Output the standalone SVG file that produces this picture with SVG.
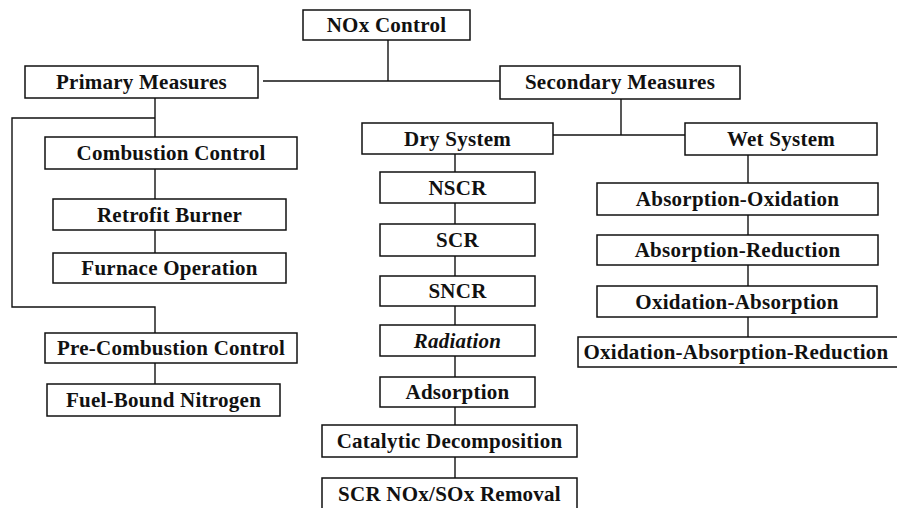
<svg xmlns="http://www.w3.org/2000/svg" width="897" height="508" viewBox="0 0 897 508">
<style>
rect{fill:#fff;stroke:#111;stroke-width:1.5}
text{font-family:"Liberation Serif","Times New Roman",serif;font-weight:bold;font-size:21px;fill:#111;text-anchor:middle;letter-spacing:0.25px}
.c line,.c polyline{stroke:#111;stroke-width:1.4;fill:none}
.it{font-style:italic}
</style>
<rect x="0" y="0" width="897" height="508" style="stroke:none;fill:#fff"/>
<g class="c" id="connectors">
<polyline points="388,40 388,81"/>
<line x1="263" y1="81" x2="500" y2="81"/>
<polyline points="155,98 155,137"/>
<polyline points="155,118 12,118 12,307 155,307 155,333"/>
<line x1="155" y1="169" x2="155" y2="199"/>
<line x1="155" y1="230" x2="155" y2="253"/>
<line x1="155" y1="363" x2="155" y2="384"/>
<line x1="621" y1="99" x2="621" y2="135"/>
<line x1="553" y1="135" x2="685" y2="135"/>
<line x1="455" y1="154" x2="455" y2="172"/>
<line x1="455" y1="203" x2="455" y2="224"/>
<line x1="455" y1="256" x2="455" y2="276"/>
<line x1="455" y1="306" x2="455" y2="325"/>
<line x1="455" y1="356" x2="455" y2="377"/>
<line x1="455" y1="407" x2="455" y2="425"/>
<line x1="455" y1="457" x2="455" y2="478"/>
<line x1="748" y1="155" x2="748" y2="183"/>
<line x1="748" y1="215" x2="748" y2="235"/>
<line x1="748" y1="265" x2="748" y2="286"/>
<line x1="748" y1="317" x2="748" y2="337"/>
</g>
<g id="nox"><rect x="303" y="10" width="167" height="30"/><text x="386.5" y="32">NOx Control</text></g>
<g id="primary"><rect x="25" y="66" width="233" height="32"/><text x="141.5" y="89">Primary Measures</text></g>
<g id="secondary"><rect x="500" y="66" width="240" height="33"/><text x="620" y="89">Secondary Measures</text></g>
<g id="combustion"><rect x="45" y="137" width="252" height="32"/><text x="171" y="160">Combustion Control</text></g>
<g id="retrofit"><rect x="53" y="199" width="233" height="31"/><text x="169.5" y="222">Retrofit Burner</text></g>
<g id="furnace"><rect x="53" y="253" width="233" height="30"/><text x="169.5" y="275">Furnace Operation</text></g>
<g id="precombustion"><rect x="45" y="333" width="252" height="30"/><text x="171" y="355">Pre-Combustion Control</text></g>
<g id="fuelbound"><rect x="47" y="384" width="233" height="32"/><text x="163.5" y="407">Fuel-Bound Nitrogen</text></g>
<g id="dry"><rect x="362" y="123" width="191" height="31"/><text x="457.5" y="146">Dry System</text></g>
<g id="wet"><rect x="685" y="123" width="192" height="32"/><text x="781" y="146">Wet System</text></g>
<g id="nscr"><rect x="380" y="172" width="155" height="31"/><text x="457.5" y="195">NSCR</text></g>
<g id="scr"><rect x="380" y="224" width="155" height="32"/><text x="457.5" y="247">SCR</text></g>
<g id="sncr"><rect x="380" y="276" width="155" height="30"/><text x="457.5" y="298">SNCR</text></g>
<g id="radiation"><rect x="380" y="325" width="155" height="31"/><text class="it" x="457.5" y="348">Radiation</text></g>
<g id="adsorption"><rect x="380" y="377" width="155" height="30"/><text x="457.5" y="399">Adsorption</text></g>
<g id="catalytic"><rect x="322" y="425" width="255" height="32"/><text x="449.5" y="448">Catalytic Decomposition</text></g>
<g id="scrnox"><rect x="322" y="478" width="255" height="36"/><text x="449.5" y="501">SCR NOx/SOx Removal</text></g>
<g id="absox"><rect x="597" y="183" width="281" height="32"/><text x="737.5" y="206">Absorption-Oxidation</text></g>
<g id="absred"><rect x="597" y="235" width="281" height="30"/><text x="737.5" y="257">Absorption-Reduction</text></g>
<g id="oxabs"><rect x="597" y="286" width="280" height="31"/><text x="737" y="309">Oxidation-Absorption</text></g>
<g id="oxabsred"><rect x="578" y="337" width="330" height="30"/><text x="736" y="359">Oxidation-Absorption-Reduction</text></g>
</svg>
